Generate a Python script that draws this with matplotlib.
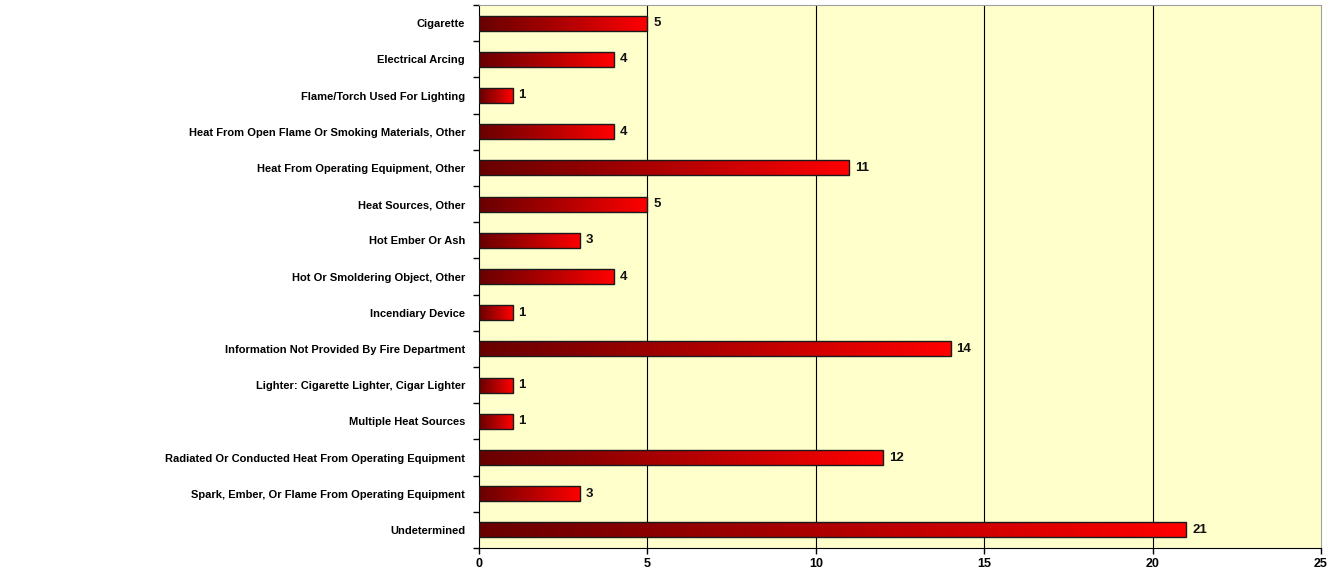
import matplotlib.pyplot as plt
import numpy as np
from matplotlib.colors import LinearSegmentedColormap

categories = [
    'Cigarette',
    'Electrical Arcing',
    'Flame/Torch Used For Lighting',
    'Heat From Open Flame Or Smoking Materials, Other',
    'Heat From Operating Equipment, Other',
    'Heat Sources, Other',
    'Hot Ember Or Ash',
    'Hot Or Smoldering Object, Other',
    'Incendiary Device',
    'Information Not Provided By Fire Department',
    'Lighter: Cigarette Lighter, Cigar Lighter',
    'Multiple Heat Sources',
    'Radiated Or Conducted Heat From Operating Equipment',
    'Spark, Ember, Or Flame From Operating Equipment',
    'Undetermined',
]
counts = [5, 4, 1, 4, 11, 5, 3, 4, 1, 14, 1, 1, 12, 3, 21]
x_ticks = [0, 5, 10, 15, 20, 25]

plt.rcParams['font.family'] = ['Liberation Sans', 'DejaVu Sans']

fig = plt.figure(figsize=(13.43, 5.72), dpi=100)
ax = fig.add_axes([479 / 1343, 1 - 548 / 572, (1321 - 479) / 1343, (548 - 5) / 572])
ax.set_facecolor('#FFFFCC')

n = len(categories)
ypos = np.arange(n)
bar_h = 0.41

# red gradient, dark on the left
cmap = LinearSegmentedColormap.from_list('redgrad', ['#680000', '#B00000', '#FF0000'])
grad = np.linspace(0, 1, 256).reshape(1, -1)

for y, v in zip(ypos, counts):
    ax.imshow(grad, cmap=cmap, aspect='auto', interpolation='bicubic',
              extent=[0, v, y + bar_h / 2, y - bar_h / 2], zorder=3)
    ax.text(v + 0.17, y, str(v), va='center', ha='left',
            fontsize=9.5, fontweight='bold', color='#111111', zorder=4)

ax.barh(ypos, counts, height=bar_h, facecolor='none', edgecolor='#1a1a1a',
        linewidth=1.0, zorder=3.5)

ax.set_xlim(0, 25)
ax.set_ylim(n - 0.5, -0.5)

ax.set_xticks(x_ticks)
ax.set_xticklabels([str(t) for t in x_ticks], fontsize=9, fontweight='bold')
ax.tick_params(axis='x', direction='out', length=4, width=1, pad=3)

ax.set_yticks(ypos)
ax.set_yticklabels(categories, fontsize=8, fontweight='bold')
ax.tick_params(axis='y', which='major', length=0, pad=10)
ax.set_yticks(np.arange(n + 1) - 0.5, minor=True)
ax.tick_params(axis='y', which='minor', direction='out', length=4, width=1)

for xv in x_ticks[1:-1]:
    ax.axvline(xv, color='#000000', linewidth=0.8, zorder=1)

ax.spines['left'].set_color('#000000')
ax.spines['bottom'].set_color('#000000')
ax.spines['top'].set_color('#A0A0A0')
ax.spines['right'].set_color('#A0A0A0')

fig.savefig('out.png', dpi=100)
